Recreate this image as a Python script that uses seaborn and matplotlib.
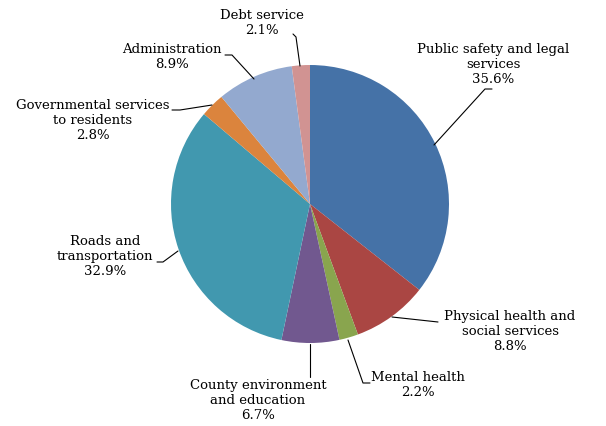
import matplotlib
matplotlib.use("Agg")
import matplotlib.pyplot as plt
import seaborn as sns

categories = [
    "Public safety and legal\nservices",
    "Physical health and\nsocial services",
    "Mental health",
    "County environment\nand education",
    "Roads and\ntransportation",
    "Governmental services\nto residents",
    "Administration",
    "Debt service",
]
shares = [35.6, 8.8, 2.2, 6.7, 32.9, 2.8, 8.9, 2.1]
colors_hex = ["#4572A7", "#AA4643", "#89A54E", "#71588F",
              "#4198AF", "#DB843D", "#93A9CF", "#D19392"]

sns.set_theme(style="white")
plt.rcParams["font.family"] = ["DejaVu Serif"]

W, H = 606, 427
fig = plt.figure(figsize=(W / 100, H / 100), dpi=100)
ax = fig.add_axes([0, 0, 1, 1])

cx, cy, R = 310, H - 205, 139
palette = sns.color_palette(colors_hex)
ax.pie(shares, colors=palette, startangle=90, counterclock=False,
       center=(cx, cy), radius=R, frame=True,
       wedgeprops=dict(linewidth=0))
ax.set_xlim(0, W)
ax.set_ylim(0, H)
ax.set_aspect("equal")
ax.axis("off")

# layout: text centre (x, y-top px), leader polyline points (px, top-origin)
layout = [
    dict(xy=(493, 43), line=[(434, 146), (485, 90), (492, 90)]),
    dict(xy=(510, 310), line=[(392, 318), (438, 323)]),
    dict(xy=(418, 371), line=[(348, 341), (363, 384), (370, 384)]),
    dict(xy=(258, 379), line=[(310, 345), (310, 378)]),
    dict(xy=(105, 235), line=[(178, 252), (163, 263), (157, 263)]),
    dict(xy=(93, 99), line=[(212, 106), (180, 111), (172, 111)]),
    dict(xy=(172, 43), line=[(254, 80), (232, 56), (225, 56)]),
    dict(xy=(262, 9), line=[(300, 67), (296, 38), (293, 35)]),
]

for cat, val, lay in zip(categories, shares, layout):
    label = f"{cat}\n{val:.1f}%"
    x, ytop = lay["xy"]
    ax.text(x, H - ytop, label, ha="center", va="top", fontsize=9.5,
            linespacing=1.2, color="#000000", multialignment="center")
    xs = [p[0] for p in lay["line"]]
    ys = [H - p[1] for p in lay["line"]]
    ax.plot(xs, ys, color="black", linewidth=0.8)

fig.savefig("out.png", dpi=100)
